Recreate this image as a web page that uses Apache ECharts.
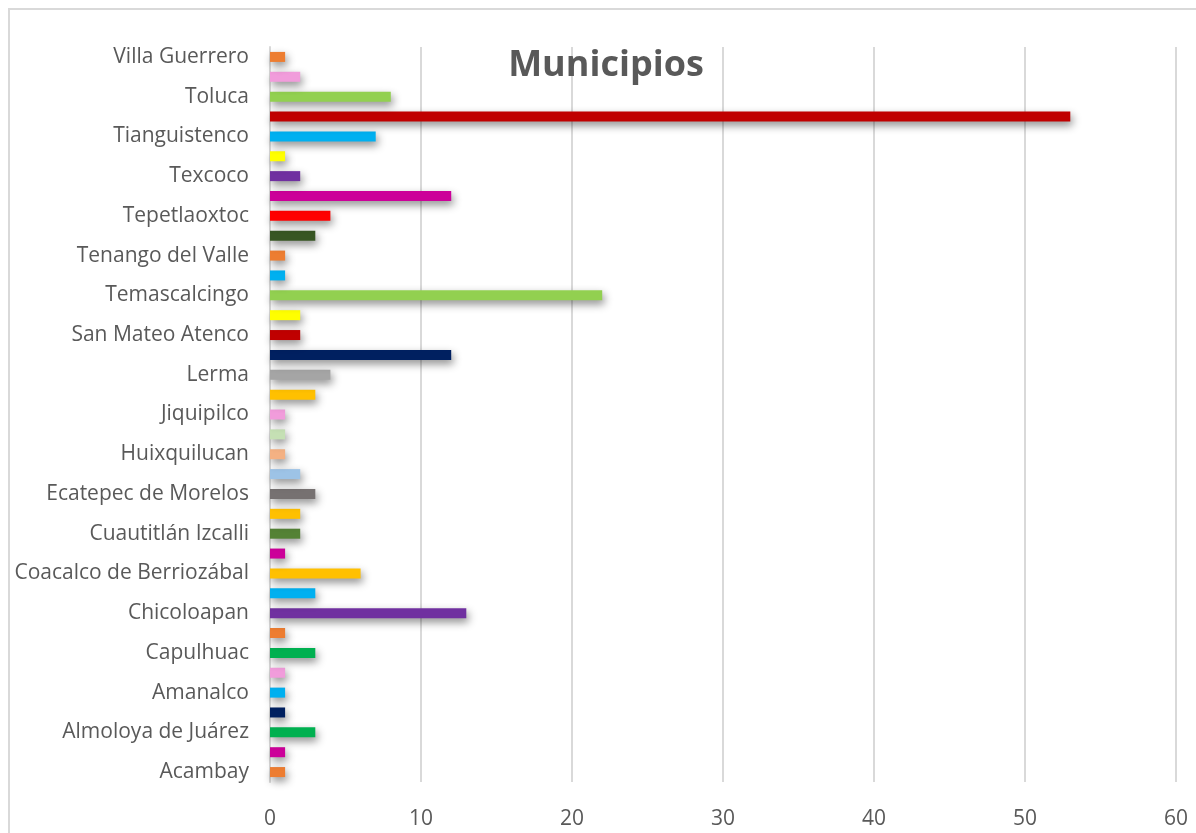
<!DOCTYPE html>
<html>
<head>
<meta charset="utf-8">
<script src="https://cdn.jsdelivr.net/npm/echarts@6/dist/echarts.min.js"></script>
<style>html,body{margin:0;padding:0;background:#fff;}#c{width:1196px;height:833px;}</style>
</head>
<body>
<div id="c"></div>
<script>
const categories = [
  "Acambay","Acolman","Almoloya de Juárez","Almoloya del Río","Amanalco","Amecameca",
  "Capulhuac","Chalco","Chicoloapan","Chimalhuacán","Coacalco de Berriozábal","Cuautitlán",
  "Cuautitlán Izcalli","Donato Guerra","Ecatepec de Morelos","Huehuetoca","Huixquilucan","Ixtapaluca",
  "Jiquipilco","La Paz","Lerma","Metepec","San Mateo Atenco","Santo Tomás",
  "Temascalcingo","Temoaya","Tenango del Valle","Teoloyucan","Tepetlaoxtoc","Tepotzotlán",
  "Texcoco","Tezoyuca","Tianguistenco","Tlalnepantla de Baz","Toluca","Tultitlán","Villa Guerrero"
];
const values = [
  1,1,3,1,1,1,
  3,1,13,3,6,1,
  2,2,3,2,1,1,
  1,3,4,12,2,2,
  22,1,1,3,4,12,
  2,1,7,53,8,2,1
];
const barColors = [
  "#ED7D31","#CC0099","#00B050","#002060","#00B0F0","#F19CDB",
  "#00B050","#ED7D31","#7030A0","#00B0F0","#FFC000","#CC0099",
  "#548235","#FFC000","#767171","#9DC3E6","#F4B183","#C5E0B4",
  "#F19CDB","#FFC000","#A5A5A5","#002060","#C00000","#FFFF00",
  "#92D050","#00B0F0","#ED7D31","#375623","#FF0000","#CC0099",
  "#7030A0","#FFFF00","#00B0F0","#C00000","#92D050","#F19CDB","#ED7D31"
];
const xTicks = [0,10,20,30,40,50,60];

const chart = echarts.init(document.getElementById('c'), null, {renderer:'canvas'});
chart.setOption({
  backgroundColor: '#fff',
  animation: false,
  title: {
    text: 'Municipios', left: 601, top: 43, textAlign: 'center',
    textStyle: {fontFamily: 'Open Sans', fontWeight: 'bold', fontSize: 36, color: '#595959'}
  },
  graphic: [{
    type: 'rect', silent: true, z: -1,
    shape: {x: 9, y: 9, width: 1220, height: 900},
    style: {fill: 'none', stroke: '#d9d9d9', lineWidth: 2}
  }],
  grid: {left: 270, right: 20, top: 47, bottom: 51},
  xAxis: {
    type: 'value', min: xTicks[0], max: xTicks[xTicks.length-1], interval: 10,
    axisLine: {show: false}, axisTick: {show: false},
    splitLine: {lineStyle: {color: '#d9d9d9', width: 2}},
    axisLabel: {margin: 27, fontFamily: 'Open Sans', fontSize: 21, color: '#595959'}
  },
  yAxis: {
    type: 'category', data: categories,
    axisLine: {show: true, lineStyle: {color: '#d9d9d9', width: 2}},
    axisTick: {show: false},
    axisLabel: {interval: 1, margin: 21, fontFamily: 'Open Sans', fontSize: 21, color: '#595959'}
  },
  series: [{
    type: 'bar', barWidth: 10,
    data: values.map((v, i) => ({value: v, itemStyle: {color: barColors[i]}})),
    itemStyle: {shadowColor: 'rgba(0,0,0,0.45)', shadowBlur: 8, shadowOffsetX: 2, shadowOffsetY: 4}
  }]
});
</script>
</body>
</html>
